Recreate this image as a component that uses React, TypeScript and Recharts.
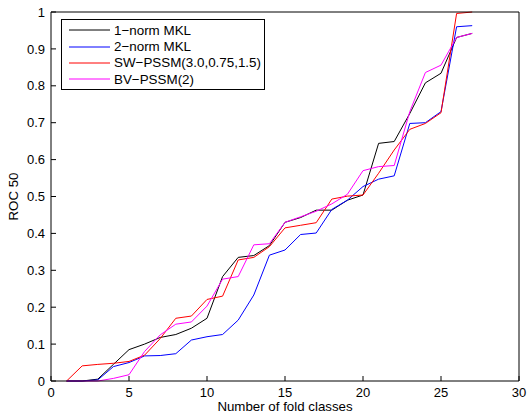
import React from 'react';
import { LineChart, Line, XAxis, YAxis, Legend } from 'recharts';

const FONT = '"Liberation Sans", Arial, Helvetica, sans-serif';

const foldClasses = [1, 2, 3, 4, 5, 6, 7, 8, 9, 10, 11, 12, 13, 14, 15, 16, 17, 18, 19, 20, 21, 22, 23, 24, 25, 26, 27];

const norm1Mkl = [0, 0, 0.005, 0.045, 0.085, 0.1, 0.118, 0.126, 0.143, 0.17, 0.283, 0.335, 0.34, 0.367, 0.43, 0.443, 0.463, 0.463, 0.49, 0.504, 0.644, 0.649, 0.725, 0.808, 0.834, 0.931, 0.942];
const norm2Mkl = [0, 0, 0.003, 0.039, 0.05, 0.068, 0.069, 0.074, 0.111, 0.12, 0.126, 0.165, 0.233, 0.341, 0.355, 0.397, 0.401, 0.465, 0.49, 0.527, 0.547, 0.556, 0.698, 0.7, 0.73, 0.96, 0.963];
const swPssm = [0, 0.041, 0.045, 0.048, 0.053, 0.07, 0.115, 0.17, 0.176, 0.221, 0.23, 0.328, 0.335, 0.364, 0.415, 0.422, 0.429, 0.493, 0.501, 0.504, 0.563, 0.626, 0.682, 0.698, 0.727, 0.996, 1.0];
const bvPssm = [0, 0, 0, 0.007, 0.017, 0.08, 0.125, 0.154, 0.16, 0.203, 0.276, 0.283, 0.369, 0.372, 0.43, 0.445, 0.46, 0.48, 0.506, 0.57, 0.581, 0.584, 0.73, 0.836, 0.856, 0.931, 0.942];

const seriesNames = ['1−norm MKL', '2−norm MKL', 'SW−PSSM(3.0,0.75,1.5)', 'BV−PSSM(2)'];

const xTicks = [0, 5, 10, 15, 20, 25, 30];
const yTicks = [0, 0.1, 0.2, 0.3, 0.4, 0.5, 0.6, 0.7, 0.8, 0.9, 1];

const data = foldClasses.map((x, i) => ({
  x,
  norm1: norm1Mkl[i],
  norm2: norm2Mkl[i],
  sw: swPssm[i],
  bv: bvPssm[i],
}));

const tickStyle = { fill: '#000', fontSize: 13, fontFamily: FONT };

function YLabel({ viewBox }: any) {
  const cx = 13;
  const cy = viewBox.y + viewBox.height / 2;
  return (
    <text
      x={cx}
      y={cy}
      transform={`rotate(-90 ${cx} ${cy})`}
      textAnchor="middle"
      dominantBaseline="central"
      fontSize={13.3}
      fontFamily={FONT}
      fill="#000"
    >
      ROC 50
    </text>
  );
}

function LegendBox({ payload }: any) {
  // keep the plotting order, not the alphabetical one
  const items = [...(payload || [])].sort(
    (a: any, b: any) => seriesNames.indexOf(a.value) - seriesNames.indexOf(b.value)
  );
  return (
    <div
      style={{
        boxSizing: 'border-box',
        width: 204,
        height: 71,
        border: '1px solid #000',
        background: '#fff',
        paddingTop: 2,
        fontFamily: FONT,
        fontSize: 13.4,
      }}
    >
      {items.map((p: any) => (
        <div key={p.value} style={{ display: 'flex', alignItems: 'center', height: 16.4 }}>
          <svg width={52} height={16} style={{ flex: 'none' }}>
            <line x1={7} x2={48} y1={8} y2={8} stroke={p.color} strokeWidth={1} />
          </svg>
          <span style={{ whiteSpace: 'nowrap', color: '#000' }}>{p.value}</span>
        </div>
      ))}
    </div>
  );
}

export default function App() {
  return (
    <div style={{ position: 'absolute', left: 0, top: 0, background: '#fff' }}>
      <LineChart width={527} height={414} data={data} margin={{ top: 11, right: 7, bottom: 0, left: 0 }}>
        <XAxis
          xAxisId="b"
          dataKey="x"
          type="number"
          domain={[0, 30]}
          ticks={xTicks}
          interval={0}
          height={33}
          tickSize={-5}
          tickMargin={12}
          tick={tickStyle}
          stroke="#000"
          label={{ value: 'Number of fold classes', position: 'insideBottom', offset: 3, fill: '#000', fontSize: 13.3, fontFamily: FONT }}
        />
        <XAxis
          xAxisId="t"
          dataKey="x"
          type="number"
          orientation="top"
          domain={[0, 30]}
          ticks={xTicks}
          interval={0}
          height={1}
          tickSize={-5}
          tick={false}
          stroke="#000"
        />
        <YAxis
          yAxisId="l"
          type="number"
          domain={[0, 1]}
          ticks={yTicks}
          interval={0}
          width={51}
          tickSize={-5}
          tickMargin={11}
          tick={tickStyle}
          stroke="#000"
          label={<YLabel />}
        />
        <YAxis
          yAxisId="r"
          type="number"
          orientation="right"
          domain={[0, 1]}
          ticks={yTicks}
          interval={0}
          width={1}
          tickSize={-5}
          tick={false}
          stroke="#000"
        />
        <Legend
          layout="horizontal"
          verticalAlign="middle"
          align="center"
          content={<LegendBox />}
          wrapperStyle={{ left: 61, top: 19, width: 204, height: 71 }}
        />
        <Line xAxisId="b" yAxisId="l" type="linear" dataKey="norm1" name={seriesNames[0]} stroke="#000000" strokeWidth={1} dot={false} isAnimationActive={false} />
        <Line xAxisId="b" yAxisId="l" type="linear" dataKey="norm2" name={seriesNames[1]} stroke="#0000ff" strokeWidth={1} dot={false} isAnimationActive={false} />
        <Line xAxisId="b" yAxisId="l" type="linear" dataKey="sw" name={seriesNames[2]} stroke="#ff0000" strokeWidth={1} dot={false} isAnimationActive={false} />
        <Line xAxisId="b" yAxisId="l" type="linear" dataKey="bv" name={seriesNames[3]} stroke="#ff00ff" strokeWidth={1} dot={false} isAnimationActive={false} />
      </LineChart>
    </div>
  );
}
